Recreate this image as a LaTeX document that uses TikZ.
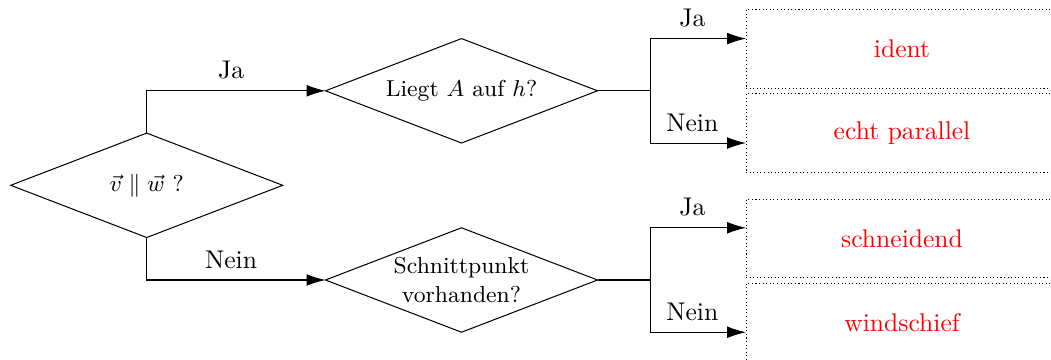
\documentclass[tikz,border=0pt]{standalone}
\usepackage{amsmath}
\usetikzlibrary{shapes.geometric,arrows.meta}

\tikzset{
  question/.style={shape=diamond, draw, aspect=2.62, inner sep=0pt, outer sep=0pt,
    minimum width=106.25pt, minimum height=40.8pt, font=\small, align=center},
  result/.style={draw, densely dotted, anchor=west, inner sep=0pt, outer sep=0pt,
    minimum width=121.9pt, minimum height=30.5pt, text=red},
  arr/.style={-{Latex[length=7.4pt,width=4.6pt]}},
  lbl/.style={above, yshift=1pt},
}

\begin{document}
\begin{tikzpicture}[x=0.390625pt, y=-0.390625pt]
\useasboundingbox (0,0) rectangle (1051,359);
\begin{scope}
\clip (0,0) rectangle (1051,359);

% decision diamonds
\node[question] (d1) at (146.7,185.3) {$\vec{v} \parallel \vec{w}$ ?};
\node[question] (d2) at (461.5,90.8) {Liegt $A$ auf $h$?};
\node[question] (d3) at (461.5,280) {Schnittpunkt\\vorhanden?};

% outcome boxes
\node[result] (b1) at (746,49) {ident};
\node[result] (b2) at (746,133) {echt parallel};
\node[result] (b3) at (746,238.5) {schneidend};
\node[result] (b4) at (746,322.5) {windschief};

% first decision
\draw[arr] (d1.north) |- node[lbl, pos=0.736] {Ja} (d2.west);
\draw[arr] (d1.south) |- node[lbl, pos=0.736] {Nein} (d3.west);

% upper branch
\path (d2.east) ++(52.7,0) coordinate (s2);
\draw (d2.east) -- (s2);
\draw (s2 |- d2.north) -- (s2 |- d2.south);
\draw[arr] (s2 |- d2.north) -- node[lbl, pos=0.44] {Ja} (b1.west |- d2.north);
\draw[arr] (s2 |- d2.south) -- node[lbl, pos=0.44] {Nein} (b2.west |- d2.south);

% lower branch
\path (d3.east) ++(52.7,0) coordinate (s3);
\draw (d3.east) -- (s3);
\draw (s3 |- d3.north) -- (s3 |- d3.south);
\draw[arr] (s3 |- d3.north) -- node[lbl, pos=0.44] {Ja} (b3.west |- d3.north);
\draw[arr] (s3 |- d3.south) -- node[lbl, pos=0.44] {Nein} (b4.west |- d3.south);
\end{scope}
\end{tikzpicture}
\end{document}
